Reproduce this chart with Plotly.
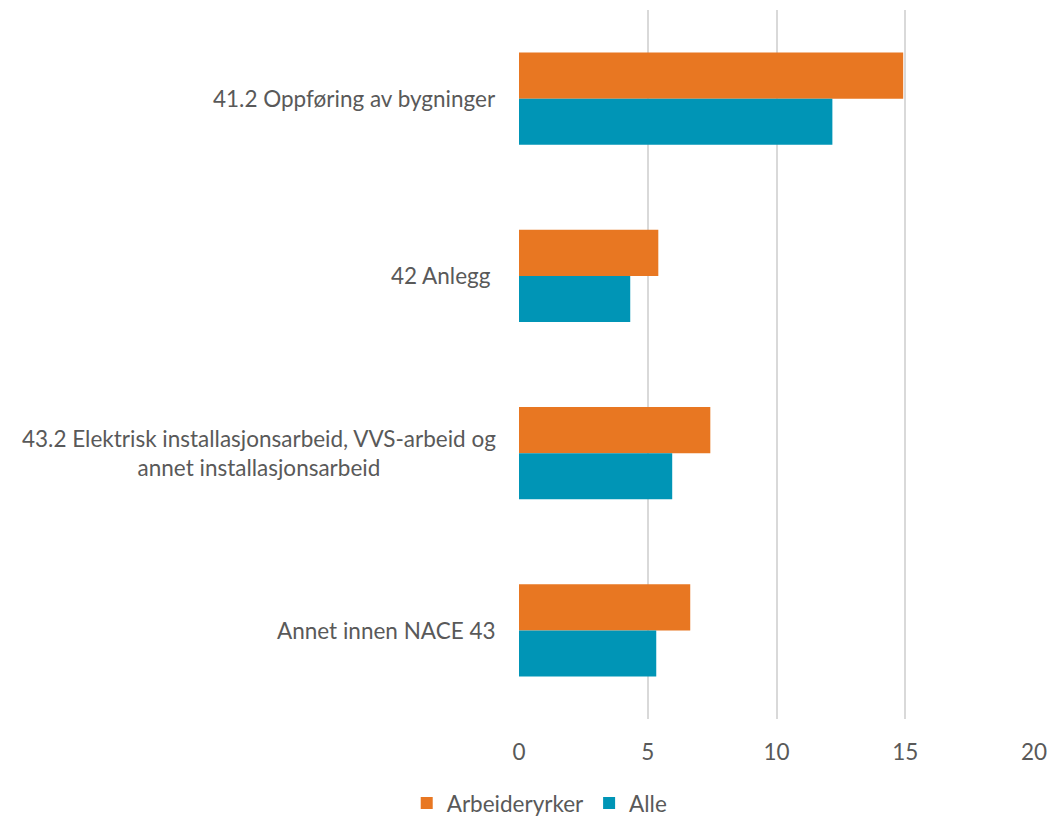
import plotly.graph_objects as go

categories = [
    "41.2 Oppføring av bygninger",
    "42 Anlegg ",
    "43.2 Elektrisk installasjonsarbeid, VVS-arbeid og<br>annet installasjonsarbeid",
    "Annet innen NACE 43",
]
arbeideryrker = [14.92, 5.41, 7.43, 6.65]
alle = [12.17, 4.32, 5.95, 5.33]
x_ticks = [0, 5, 10, 15, 20]

FONT = "Source Sans Pro, Lato, Noto Sans, sans-serif"
TXT = "#595959"
FS = 22.5

fig = go.Figure()
fig.add_trace(go.Bar(y=categories, x=arbeideryrker, orientation="h", name="Arbeideryrker",
                     marker=dict(color="#E87722", line=dict(width=0))))
fig.add_trace(go.Bar(y=categories, x=alle, orientation="h", name="Alle",
                     marker=dict(color="#0095B6", line=dict(width=0))))

for c in categories:
    fig.add_annotation(text=c, x=0, xref="paper", y=c, yref="y", xanchor="right",
                       yanchor="middle", xshift=-21, align="center", showarrow=False,
                       font=dict(family=FONT, size=FS, color=TXT))

fig.update_layout(
    width=1048, height=818,
    margin=dict(l=519, r=14, t=10, b=99, autoexpand=False),
    paper_bgcolor="white", plot_bgcolor="white",
    barmode="group", bargap=0.48, bargroupgap=0,
    font=dict(family=FONT, size=FS, color=TXT),
    xaxis=dict(range=[0, 20], tickvals=x_ticks, showgrid=True, gridcolor="#D9D9D9",
               gridwidth=2, zeroline=False, showline=False, ticks="", automargin=False,
               tickfont=dict(family=FONT, size=FS, color=TXT), ticklabelstandoff=17),
    yaxis=dict(autorange="reversed", showticklabels=False, showgrid=False, zeroline=False,
               showline=False, ticks="", automargin=False),
    legend=dict(orientation="h", xref="container", x=0.515, xanchor="center",
                yref="container", y=0.018, yanchor="middle",
                font=dict(family=FONT, size=FS, color=TXT), itemwidth=30,
                traceorder="normal"),
)

fig.write_html("out.html", config={"displayModeBar": False},
               post_script="document.body.style.margin='0';")
